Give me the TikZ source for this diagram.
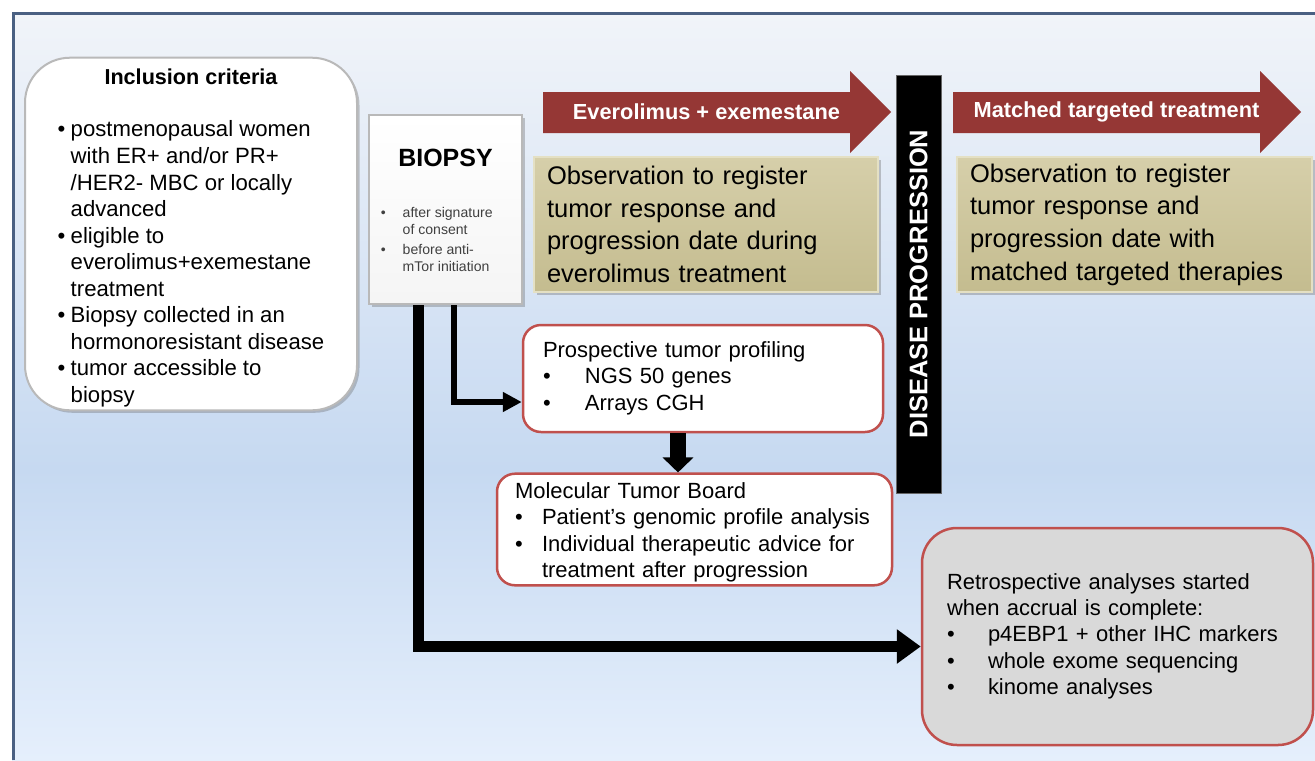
\documentclass[tikz,border=0pt]{standalone}
\usepackage{fontspec}
\setmainfont{Liberation Sans}
\usetikzlibrary{arrows.meta,shadows}
\definecolor{framecol}{RGB}{74,96,130}
\definecolor{bgtop}{RGB}{241,244,249}
\definecolor{bgmid}{RGB}{198,217,241}
\definecolor{bgbot}{RGB}{229,239,252}
\definecolor{arrowred}{RGB}{149,55,53}
\definecolor{boxred}{RGB}{192,80,77}
\definecolor{tantop}{RGB}{214,207,170}
\definecolor{tanbot}{RGB}{196,188,143}
\definecolor{tanedge}{RGB}{228,224,196}
\definecolor{retrofill}{RGB}{217,217,217}
\definecolor{smallgray}{RGB}{64,64,64}
\newlength{\px}
\setlength{\px}{0.2mm}
\newcommand{\bul}{\textbullet}

\begin{document}
\begin{tikzpicture}[x=0.2mm,y=-0.2mm,
  softshadow/.style={drop shadow={shadow xshift=0.5mm,shadow yshift=-0.5mm,opacity=0.35,fill=black!60}},
  critbox/.style={rounded corners=9mm,fill=white,draw=gray!55,line width=2\px,softshadow,inner sep=0pt,
    font=\fontsize{12.6}{15.1}\selectfont},
  biopsybox/.style={top color=white,bottom color=gray!8,draw=gray!55,line width=2\px,softshadow,inner sep=0pt,
    text=smallgray,font=\fontsize{8}{10}\selectfont},
  obsbox/.style={top color=tantop,bottom color=tanbot,draw=tanedge,line width=1.5\px,softshadow,
    align=left,inner xsep=13\px,inner ysep=0pt,minimum height=135\px,font=\fontsize{14.5}{18.6}\selectfont},
  redbox/.style={fill=white,draw=boxred,line width=0.5mm,rounded corners=3.6mm,align=left,inner ysep=0pt,
    font=\fontsize{12.5}{15}\selectfont},
  armlabel/.style={text=white,font=\fontsize{12.4}{15}\bfseries,inner sep=0pt},
  progbar/.style={fill=black,draw=black!60,line width=1\px,rotate=90,text=white,inner sep=0pt,
    font=\fontsize{14.5}{17}\bfseries},
  conn/.style={draw=black}
]
\useasboundingbox (0,0) rectangle (1315,760);

\fill[white] (0,0) rectangle (1315,760);
\shade[top color=bgtop,bottom color=bgmid] (12,12) rectangle (1315,470);
\shade[top color=bgmid,bottom color=bgbot] (12,469) rectangle (1315,760);
\draw[framecol,line width=3\px] (13,760) -- (13,13) -- (1315,13);

\node[critbox,minimum width=332\px,minimum height=352\px] (incl) at (191,234) {%
\begin{tabular}{@{}p{2.6mm}@{}l@{}}
\multicolumn{2}{c}{\rule{0pt}{15pt}\fontsize{12.3}{15}\bfseries Inclusion criteria}\\[15pt]
\bul & postmenopausal women\\
     & with ER+ and/or PR+\\
     & /HER2- MBC or locally\\
     & advanced\\
\bul & eligible to\\
     & everolimus+exemestane\\
     & treatment\\
\bul & Biopsy collected in an\\
     & hormonoresistant disease\\
\bul & tumor accessible to\\
     & biopsy
\end{tabular}};

\node[biopsybox,minimum width=153\px,minimum height=189\px] (biopsy) at (445.5,209.5) {%
\begin{tabular}{@{}l@{\hspace{3.4mm}}l@{\hspace{10pt}}}
\multicolumn{2}{c}{\rule{0pt}{14pt}\color{black}\fontsize{14.2}{17}\bfseries BIOPSY}\\[19pt]
\bul & after signature\\
     & of consent\\[1pt]
\bul & before anti-\\
     & mTor initiation
\end{tabular}};

\foreach \xa/\xb/\nm/\lab in {543/850/evex/Everolimus + exemestane,953/1260/match/Matched targeted treatment} {
  \fill[arrowred] (\xa,92) -- (\xb,92) -- (\xb,71) -- (\xb+41,112) -- (\xb,153) -- (\xb,133) -- (\xa,133) -- cycle;
  \node[armlabel] (\nm) at ({(\xa+\xb)/2+10},112) {\lab};
}

\node[obsbox,minimum width=344\px,text width=318\px] (obsA) at (706,224.5)
  {Observation to register\\tumor response and\\progression date during\\everolimus treatment};
\node[obsbox,minimum width=355\px,text width=329\px] (obsB) at (1134.5,224.5)
  {Observation to register\\tumor response and\\progression date with\\matched targeted therapies};

\node[progbar,minimum width=418\px,minimum height=45\px] (prog) at (918.5,284) {DISEASE PROGRESSION};

\node[redbox,minimum width=360\px,minimum height=107\px,text width=320\px,inner xsep=20\px] (prof) at (703,378.5) {%
\begin{tabular}{@{}p{8.4mm}@{}l@{}}
\multicolumn{2}{@{}l@{}}{Prospective tumor profiling}\\
\bul & NGS 50 genes\\
\bul & Arrays CGH
\end{tabular}};

\node[redbox,minimum width=395\px,minimum height=107\px,text width=359\px,inner xsep=18\px] (molec) at (694.5,529.5) {%
\begin{tabular}{@{}p{5.4mm}@{}l@{}}
\multicolumn{2}{@{}l@{}}{\rule{0pt}{14pt}Molecular Tumor Board}\\
\bul & Patient’s genomic profile analysis\\
\bul & Individual therapeutic advice for\\
     & treatment after progression
\end{tabular}};

\node[redbox,fill=retrofill,rounded corners=7mm,minimum width=391\px,minimum height=217\px,text width=341\px,inner xsep=25\px] (retro) at (1117.5,636.5) {%
\begin{tabular}{@{}p{8.2mm}@{}l@{}}
\multicolumn{2}{@{}l@{}}{Retrospective analyses started}\\
\multicolumn{2}{@{}l@{}}{when accrual is complete:}\\
\bul & p4EBP1 + other IHC markers\\
\bul & whole exome sequencing\\
\bul & kinome analyses
\end{tabular}};

\draw[conn,line width=2.2mm,-{Triangle[width=6.6mm,length=4.8mm]}] ([xshift=-27\px]biopsy.south) |- ([yshift=-10\px]retro.west);
\draw[conn,line width=1.2mm,-{Triangle[width=3.8mm,length=3.8mm]}] ([xshift=8.5\px]biopsy.south) |- ([yshift=-23.5\px]prof.west);
\draw[conn,line width=3.2mm,-{Triangle[width=6mm,length=3mm]}] ([xshift=-25\px]prof.south) -- ([xshift=-25\px]prof.south |- molec.north);

\end{tikzpicture}
\end{document}
